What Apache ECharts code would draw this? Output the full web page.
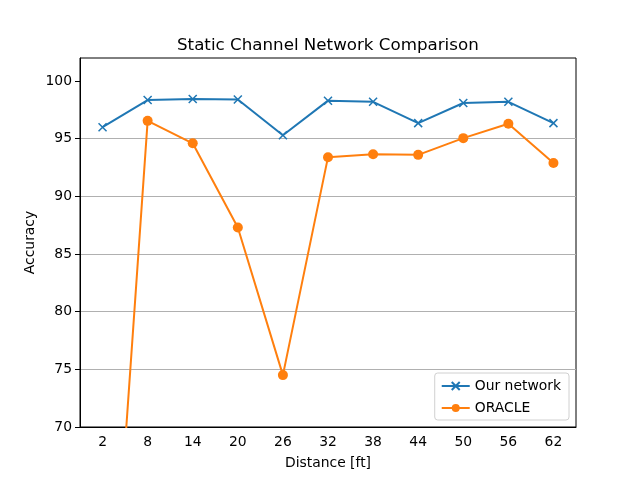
<!DOCTYPE html>
<html>
<head>
<meta charset="utf-8">
<script src="https://cdn.jsdelivr.net/npm/echarts@6/dist/echarts.min.js"></script>
<style>html,body{margin:0;padding:0;background:#fff}#c{width:640px;height:480px}</style>
</head>
<body>
<div id="c"></div>
<script>
const distances = ['2','8','14','20','26','32','38','44','50','56','62'];
const ourNetwork = [96.0, 98.35, 98.45, 98.4, 95.3, 98.3, 98.2, 96.35, 98.1, 98.2, 96.35];
const oracle = [40.4, 96.55, 94.6, 87.3, 74.5, 93.4, 93.65, 93.6, 95.05, 96.3, 92.9];
const yTicks = [70, 75, 80, 85, 90, 95, 100];

const FONT = 'DejaVu Sans';
const chart = echarts.init(document.getElementById('c'), null, {renderer: 'canvas'});
chart.setOption({
  animation: false,
  backgroundColor: '#fff',
  textStyle: {fontFamily: FONT},
  title: {
    text: 'Static Channel Network Comparison',
    left: 172, top: 32,
    textStyle: {fontFamily: FONT, fontSize: 16.7, fontWeight: 'normal', color: '#000'}
  },
  grid: {left: 80, right: 64, top: 58, bottom: 53, show: true, borderColor: '#000', borderWidth: 1, backgroundColor: 'transparent'},
  legend: {
    orient: 'vertical', right: 71, bottom: 60,
    itemWidth: 28, itemHeight: 10, itemGap: 8,
    padding: [6, 8, 5, 6],
    borderColor: '#d0d0d0', borderWidth: 1, borderRadius: 3,
    backgroundColor: 'rgba(255,255,255,0.8)',
    textStyle: {fontFamily: FONT, fontSize: 13.9, color: '#000'},
    data: ['Our network', 'ORACLE']
  },
  xAxis: {
    type: 'category', data: distances, boundaryGap: true,
    name: 'Distance [ft]', nameLocation: 'middle', nameGap: 29,
    nameTextStyle: {fontFamily: FONT, fontSize: 13.9, color: '#000'},
    axisLine: {lineStyle: {color: '#000', width: 1}},
    axisTick: {alignWithLabel: true, length: 5, lineStyle: {color: '#000'}},
    axisLabel: {fontFamily: FONT, fontSize: 13.9, color: '#000', margin: 8, interval: 0},
    splitLine: {show: false}
  },
  yAxis: {
    type: 'value', min: 70, max: 102, interval: 5,
    name: 'Accuracy', nameLocation: 'middle', nameGap: 43, nameMoveOverlap: false,
    nameTextStyle: {fontFamily: FONT, fontSize: 13.9, color: '#000'},
    axisLine: {show: true, lineStyle: {color: '#000', width: 1}},
    axisTick: {show: true, length: 5, lineStyle: {color: '#000'}, customValues: yTicks},
    axisLabel: {fontFamily: FONT, fontSize: 13.9, color: '#000', margin: 8, customValues: yTicks},
    splitLine: {show: true, showMaxLine: false, lineStyle: {color: '#b0b0b0', width: 1}}
  },
  series: [
    {
      name: 'Our network', type: 'line', data: ourNetwork, clip: true,
      symbol: 'path://M0,0L10,10M10,0L0,10', symbolSize: 8,
      lineStyle: {color: '#1f77b4', width: 2},
      itemStyle: {color: '#1f77b4', borderColor: '#1f77b4', borderWidth: 1.5},
      z: 3
    },
    {
      name: 'ORACLE', type: 'line', data: oracle, clip: true,
      symbol: 'circle', symbolSize: 10,
      lineStyle: {color: '#ff7f0e', width: 2},
      itemStyle: {color: '#ff7f0e', borderWidth: 0},
      z: 2
    }
  ]
});
</script>
</body>
</html>
